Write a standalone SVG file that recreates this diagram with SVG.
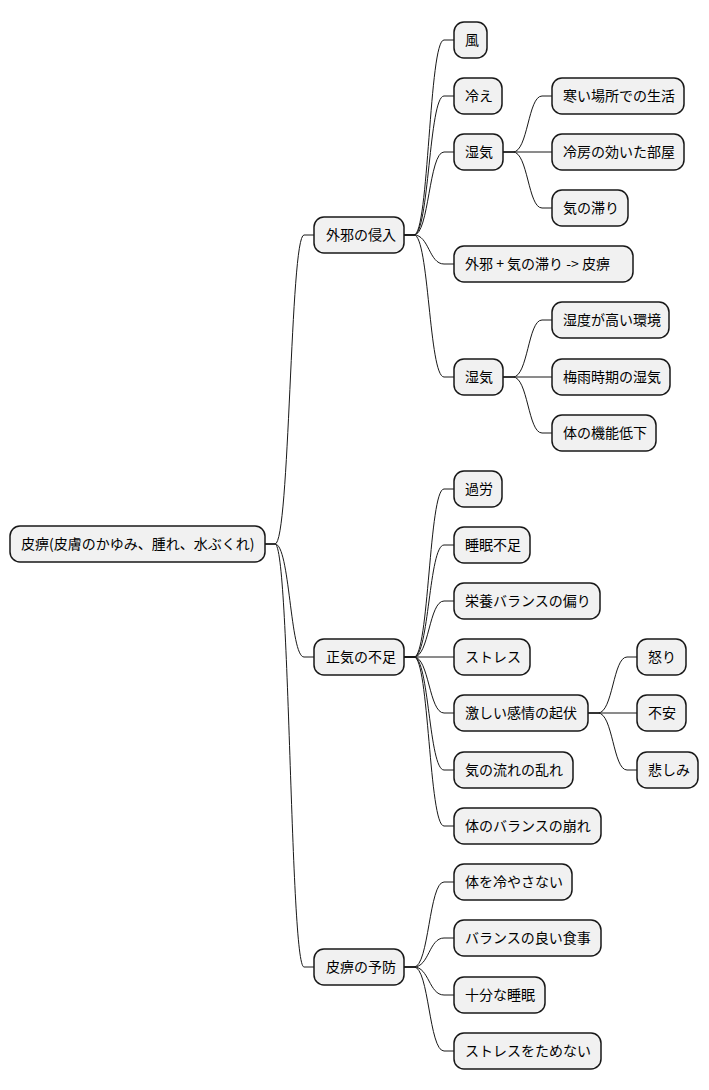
<svg xmlns="http://www.w3.org/2000/svg" width="709" height="1090" viewBox="0 0 709 1090">
<style>
rect{fill:#F1F1F1;stroke:#181818;stroke-width:1.5}
text{font-family:"Noto Sans CJK JP","Liberation Sans",sans-serif;font-size:14px;fill:#000}
#edges path{fill:none;stroke:#181818;stroke-width:1}
</style>
<rect width="709" height="1090" style="fill:#fff;stroke:none"/>
<g id="edges">
<path d="M265,544 h10 C290,544 290,235 304,235 H314"/>
<path d="M265,544 h10 C290,544 290,657 304,657 H314"/>
<path d="M265,544 h10 C290,544 290,967 304,967 H314"/>
<path d="M404,235 h10 C429,235 429,40 444,40 H454"/>
<path d="M404,235 h10 C429,235 429,96 444,96 H454"/>
<path d="M404,235 h10 C429,235 429,152 444,152 H454"/>
<path d="M404,235 h10 C429,235 429,264 444,264 H454"/>
<path d="M404,235 h10 C429,235 429,377 444,377 H454"/>
<path d="M503,152 h10 C528,152 528,96 542,96 H552"/>
<path d="M503,152 H552"/>
<path d="M503,152 h10 C528,152 528,208 542,208 H552"/>
<path d="M503,377 h10 C528,377 528,320 542,320 H552"/>
<path d="M503,377 H552"/>
<path d="M503,377 h10 C528,377 528,433 542,433 H552"/>
<path d="M404,657 h10 C429,657 429,489 444,489 H454"/>
<path d="M404,657 h10 C429,657 429,545 444,545 H454"/>
<path d="M404,657 h10 C429,657 429,601 444,601 H454"/>
<path d="M404,657 H454"/>
<path d="M404,657 h10 C429,657 429,713 444,713 H454"/>
<path d="M404,657 h10 C429,657 429,770 444,770 H454"/>
<path d="M404,657 h10 C429,657 429,826 444,826 H454"/>
<path d="M588,713 h10 C613,713 613,657 627,657 H637"/>
<path d="M588,713 H637"/>
<path d="M588,713 h10 C613,713 613,770 627,770 H637"/>
<path d="M404,967 h10 C429,967 429,882 444,882 H454"/>
<path d="M404,967 h10 C429,967 429,938 444,938 H454"/>
<path d="M404,967 h10 C429,967 429,995 444,995 H454"/>
<path d="M404,967 h10 C429,967 429,1051 444,1051 H454"/>
</g>
<g id="root"><rect x="10" y="526" width="255" height="36" rx="10"/><text x="21" y="549">皮痹(皮膚のかゆみ、腫れ、水ぶくれ)</text></g>
<g id="n1"><rect x="314" y="217" width="90" height="36" rx="10"/><text x="326" y="240">外邪の侵入</text></g>
<g id="n2"><rect x="314" y="639" width="90" height="36" rx="10"/><text x="326" y="662">正気の不足</text></g>
<g id="n3"><rect x="314" y="949" width="90" height="36" rx="10"/><text x="326" y="972">皮痹の予防</text></g>
<g id="a1"><rect x="454" y="22" width="33" height="36" rx="10"/><text x="465" y="45">風</text></g>
<g id="a2"><rect x="454" y="78" width="48" height="36" rx="10"/><text x="465" y="101">冷え</text></g>
<g id="a3"><rect x="454" y="134" width="49" height="36" rx="10"/><text x="465" y="157">湿気</text></g>
<g id="a4"><rect x="454" y="246" width="179" height="36" rx="10"/><text x="465" y="269" xml:space="preserve">外邪 + 気の滞り -&gt; 皮痹</text></g>
<g id="a5"><rect x="454" y="359" width="49" height="36" rx="10"/><text x="465" y="382">湿気</text></g>
<g id="b1"><rect x="552" y="78" width="132" height="36" rx="10"/><text x="563" y="101">寒い場所での生活</text></g>
<g id="b2"><rect x="552" y="134" width="132" height="36" rx="10"/><text x="563" y="157">冷房の効いた部屋</text></g>
<g id="b3"><rect x="552" y="190" width="76" height="36" rx="10"/><text x="563" y="213">気の滞り</text></g>
<g id="b4"><rect x="552" y="302" width="117" height="36" rx="10"/><text x="563" y="325">湿度が高い環境</text></g>
<g id="b5"><rect x="552" y="359" width="118" height="36" rx="10"/><text x="563" y="382">梅雨時期の湿気</text></g>
<g id="b6"><rect x="552" y="415" width="104" height="36" rx="10"/><text x="563" y="438">体の機能低下</text></g>
<g id="c1"><rect x="454" y="471" width="48" height="36" rx="10"/><text x="465" y="494">過労</text></g>
<g id="c2"><rect x="454" y="527" width="76" height="36" rx="10"/><text x="465" y="550">睡眠不足</text></g>
<g id="c3"><rect x="454" y="583" width="146" height="36" rx="10"/><text x="465" y="606">栄養バランスの偏り</text></g>
<g id="c4"><rect x="454" y="639" width="76" height="36" rx="10"/><text x="465" y="662">ストレス</text></g>
<g id="c5"><rect x="454" y="695" width="134" height="36" rx="10"/><text x="465" y="718">激しい感情の起伏</text></g>
<g id="c6"><rect x="454" y="752" width="119" height="36" rx="10"/><text x="465" y="775">気の流れの乱れ</text></g>
<g id="c7"><rect x="454" y="808" width="147" height="36" rx="10"/><text x="465" y="831">体のバランスの崩れ</text></g>
<g id="d1"><rect x="637" y="639" width="49" height="36" rx="10"/><text x="648" y="662">怒り</text></g>
<g id="d2"><rect x="637" y="695" width="49" height="36" rx="10"/><text x="648" y="718">不安</text></g>
<g id="d3"><rect x="637" y="752" width="61" height="36" rx="10"/><text x="648" y="775">悲しみ</text></g>
<g id="e1"><rect x="454" y="864" width="118" height="36" rx="10"/><text x="465" y="887">体を冷やさない</text></g>
<g id="e2"><rect x="454" y="920" width="147" height="36" rx="10"/><text x="465" y="943">バランスの良い食事</text></g>
<g id="e3"><rect x="454" y="977" width="91" height="36" rx="10"/><text x="465" y="1000">十分な睡眠</text></g>
<g id="e4"><rect x="454" y="1033" width="147" height="36" rx="10"/><text x="465" y="1056">ストレスをためない</text></g>
</svg>
